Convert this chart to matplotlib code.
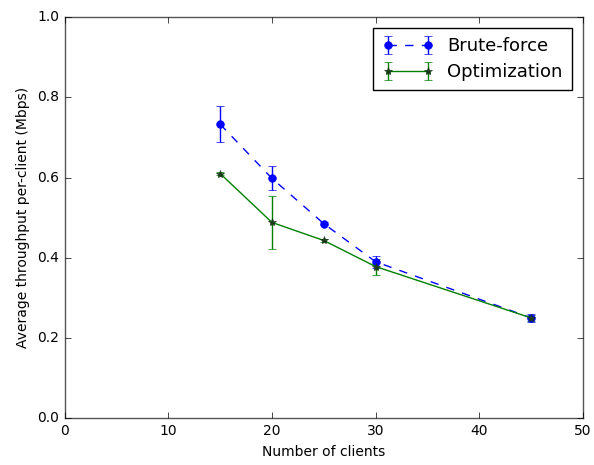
import matplotlib
matplotlib.use('Agg')
from matplotlib import pyplot as plt

plt.style.use('classic')

clients = [15, 20, 25, 30, 45]
brute = [0.733, 0.598, 0.485, 0.390, 0.250]
brute_err = [0.045, 0.030, 0.003, 0.015, 0.010]
optim = [0.610, 0.488, 0.443, 0.378, 0.250]
optim_err = [0.004, 0.067, 0.004, 0.020, 0.008]

fig = plt.figure(figsize=(5.94, 4.65), dpi=100, facecolor='white')
ax = fig.add_axes([0.109, 0.101, 0.872, 0.862])

ax.errorbar(clients, brute, yerr=brute_err, fmt='o--', color='blue', ecolor='blue',
            markeredgecolor='blue', markersize=5.5, label='Brute-force')
ax.errorbar(clients, optim, yerr=optim_err, fmt='*-', color='green', ecolor='green',
            markerfacecolor='#1a3a1a', markeredgecolor='#1a3a1a', markersize=6,
            label='Optimization')

ax.set_xlim(0, 50)
ax.set_ylim(0, 1.0)
ax.set_xticks([0, 10, 20, 30, 40, 50])
ax.set_yticks([0.0, 0.2, 0.4, 0.6, 0.8, 1.0])
ax.tick_params(labelsize=10)
for s in ax.spines.values():
    s.set_color('#555555')
ax.set_xlabel('Number of clients', fontsize=10)
ax.set_ylabel('Average throughput per-client (Mbps)', fontsize=10)
ax.legend(loc='upper right', fontsize=13, numpoints=2, handlelength=2.8,
          borderpad=0.5, borderaxespad=0.6, labelspacing=0.45)

plt.savefig('out.png', dpi=100, facecolor='white')
